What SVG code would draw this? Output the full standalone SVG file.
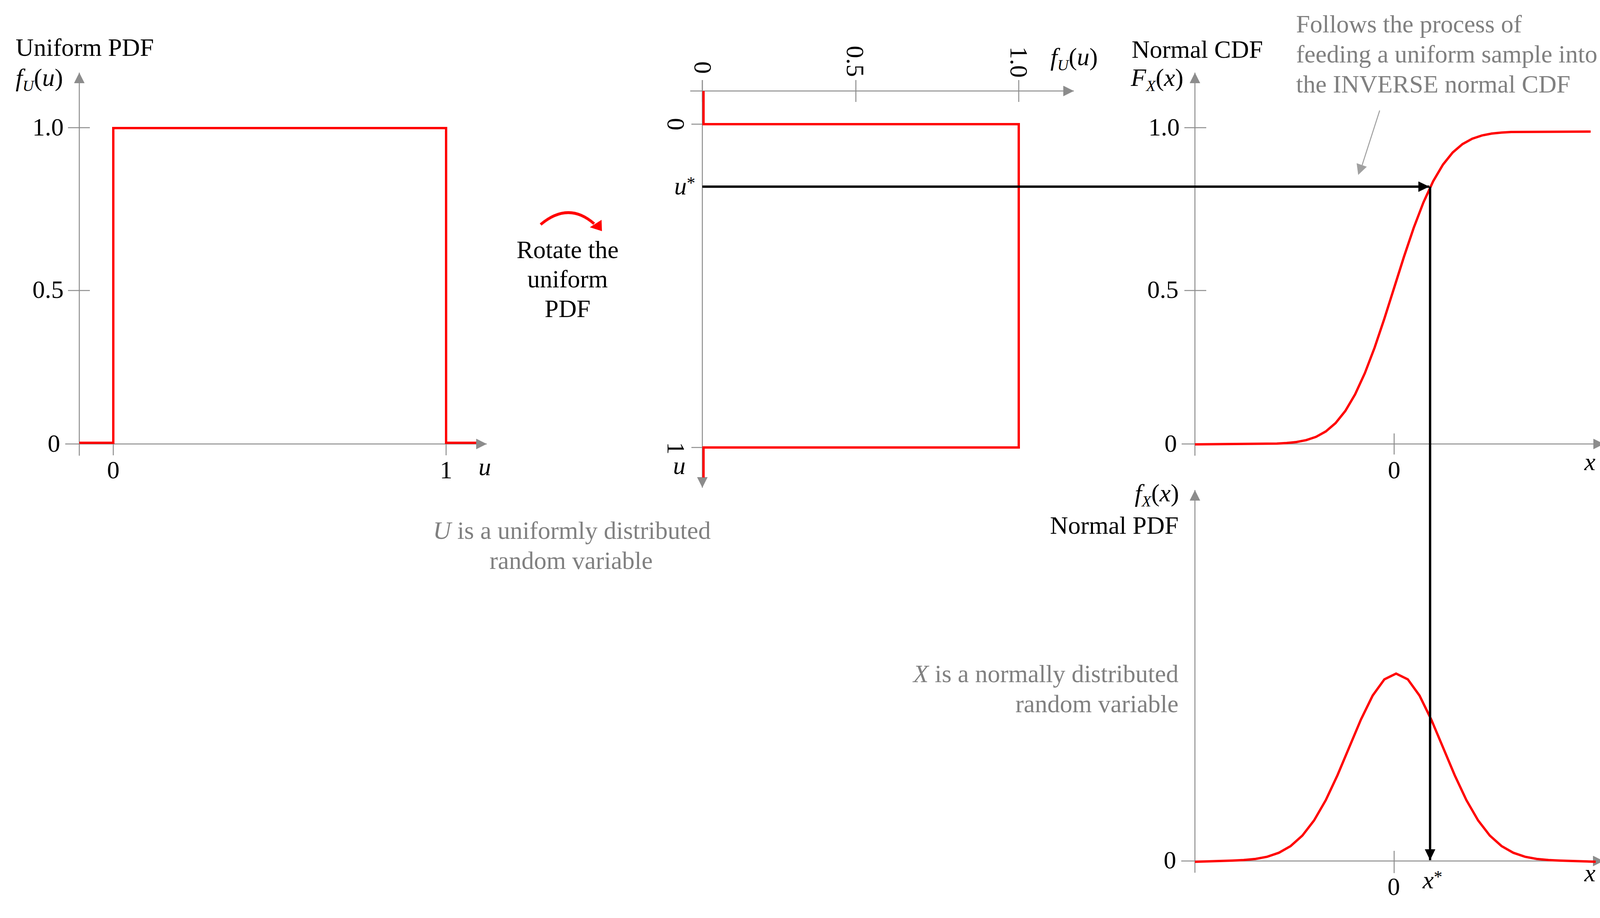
<svg xmlns="http://www.w3.org/2000/svg" width="4267" height="2351" viewBox="0 0 4267 2351">
<style>
.ax{stroke:#8c8c8c;stroke-width:2.5;fill:none}
.curve{stroke:#ff0000;stroke-width:6;fill:none;stroke-linejoin:miter}
.t{font-family:"Liberation Serif","Times New Roman",serif;font-size:64px;fill:#000}
.g{fill:#808080}
.i{font-style:italic}
.sub{font-size:40px}
.sup{font-size:44px;font-style:normal}
.conn{stroke:#000;stroke-width:6;fill:none}
</style>
<defs>
<marker id="ga" markerUnits="userSpaceOnUse" markerWidth="28" markerHeight="28" refX="27" refY="13.5" orient="auto">
<path d="M0,0 L27,13.5 L0,27 Z" fill="#8c8c8c"/>
</marker>
<marker id="ba" markerUnits="userSpaceOnUse" markerWidth="29" markerHeight="28" refX="28" refY="13.5" orient="auto">
<path d="M0,0 L28,13.5 L0,27 Z" fill="#000"/>
</marker>
</defs>
<rect width="4267" height="2351" fill="#fff"/>

<g id="uniform-pdf">
<path class="ax" d="M203,1167 V186" marker-end="url(#ga)"/>
<path class="ax" d="M167,1137 H1246" marker-end="url(#ga)"/>
<path class="ax" d="M174,327 H230 M174,744 H230 M290,1110 V1166 M1142,1110 V1166"/>
<path class="curve" d="M203,1134 H290 V328 H1142 V1134 H1219"/>
<text class="t" x="40" y="143">Uniform PDF</text>
<text class="t" x="40" y="220"><tspan class="i">f</tspan><tspan class="i sub" dy="13">U</tspan><tspan dy="-13">(</tspan><tspan class="i">u</tspan>)</text>
<text class="t" x="163" y="347" text-anchor="end">1.0</text>
<text class="t" x="163" y="763" text-anchor="end">0.5</text>
<text class="t" x="154" y="1157" text-anchor="end">0</text>
<text class="t" x="290" y="1225" text-anchor="middle">0</text>
<text class="t" x="1142" y="1225" text-anchor="middle">1</text>
<text class="t i" x="1225" y="1217">u</text>
</g>

<g id="rotate-note">
<path d="M1384,575 Q1455,515 1521,573" stroke="#ff0000" stroke-width="7" fill="none"/>
<path d="M1510,582 L1540,563 L1541,592 Z" fill="#ff0000"/>
<text class="t" x="1453" y="661" text-anchor="middle">Rotate the</text>
<text class="t" x="1453" y="736" text-anchor="middle">uniform</text>
<text class="t" x="1453" y="812" text-anchor="middle">PDF</text>
</g>

<g id="rotated-pdf">
<path class="ax" d="M1767,233 H2749" marker-end="url(#ga)"/>
<path class="ax" d="M1798,205 V1249" marker-end="url(#ga)"/>
<path class="ax" d="M1798,205 V261 M2191,205 V261 M2608,205 V261 M1770,318 H1826 M1770,1146 H1826"/>
<path class="curve" d="M1801,233 V318 H2608 V1146 H1801 V1223"/>
<text class="t" text-anchor="end" transform="translate(1778,189) rotate(90)">0</text>
<text class="t" text-anchor="end" transform="translate(2168,197) rotate(90)">0.5</text>
<text class="t" text-anchor="end" transform="translate(2587,199) rotate(90)">1.0</text>
<text class="t" x="2689" y="167"><tspan class="i">f</tspan><tspan class="i sub" dy="13">U</tspan><tspan dy="-13">(</tspan><tspan class="i">u</tspan>)</text>
<text class="t" text-anchor="middle" transform="translate(1709,318) rotate(90)">0</text>
<text class="t" text-anchor="middle" transform="translate(1709,1148) rotate(90)">1</text>
<text class="t i" x="1726" y="498">u<tspan class="sup" dy="-15">*</tspan></text>
<text class="t i" x="1723" y="1214">u</text>
</g>

<g id="u-note">
<text class="t g" x="1464" y="1380" text-anchor="middle"><tspan class="i">U</tspan> is a uniformly distributed</text>
<text class="t g" x="1462" y="1457" text-anchor="middle">random variable</text>
</g>

<g id="normal-cdf">
<path class="ax" d="M3059,1167 V186" marker-end="url(#ga)"/>
<path class="ax" d="M3025,1137 H4106" marker-end="url(#ga)"/>
<path class="ax" d="M3032,327 H3088 M3032,744 H3088 M3569,1110 V1164"/>
<polyline class="curve" points="3059,1138 3269,1136 3294,1134.6 3319,1132 3344,1127.2 3369,1118.8 3394,1105 3419,1083.6 3444,1052.5 3469,1010.1 3494,955.7 3519,890.2 3544,816 3569,737 3594,658 3619,583.8 3644,518.3 3669,463.9 3694,421.5 3719,390.4 3744,369 3769,355.2 3794,346.8 3819,342 3844,339.4 3869,338.1 4072,337"/>
<text class="t" x="2897" y="148">Normal CDF</text>
<text class="t" x="2895" y="220"><tspan class="i">F</tspan><tspan class="i sub" dy="13">X</tspan><tspan dy="-13">(</tspan><tspan class="i">x</tspan>)</text>
<text class="t" x="3020" y="347" text-anchor="end">1.0</text>
<text class="t" x="3017" y="763" text-anchor="end">0.5</text>
<text class="t" x="3013" y="1157" text-anchor="end">0</text>
<text class="t" x="3569" y="1225" text-anchor="middle">0</text>
<text class="t i" x="4056" y="1204">x</text>
</g>

<g id="inverse-note">
<text class="t g" x="3318" y="83">Follows the process of</text>
<text class="t g" x="3318" y="160">feeding a uniform sample into</text>
<text class="t g" x="3318" y="237">the INVERSE normal CDF</text>
<path d="M3532,283 L3487,423" stroke="#a0a0a0" stroke-width="2.5" fill="none"/>
<path d="M3473,418 L3499,427 L3477,448 Z" fill="#a0a0a0"/>
</g>

<g id="normal-pdf">
<path class="ax" d="M3059,2235 V1255" marker-end="url(#ga)"/>
<path class="ax" d="M3024,2205 H4105" marker-end="url(#ga)"/>
<path class="ax" d="M3569,2179 V2236"/>
<polyline class="curve" points="3059,2207 3154,2204 3184,2202.6 3214,2199.7 3244,2194.1 3274,2183.9 3304,2166.8 3334,2140 3364,2101.2 3394,2049.2 3424,1985.2 3454,1913.9 3484,1842.7 3514,1781.4 3544,1739.8 3574,1725 3604,1739.8 3634,1781.4 3664,1842.7 3694,1913.9 3724,1985.2 3754,2049.2 3784,2101.2 3814,2140 3844,2166.8 3874,2183.9 3904,2194.1 3934,2199.7 3964,2202.6 3994,2203.9 4085,2207"/>
<text class="t" x="2905" y="1284"><tspan class="i">f</tspan><tspan class="i sub" dy="13">X</tspan><tspan dy="-13">(</tspan><tspan class="i">x</tspan>)</text>
<text class="t" x="3017" y="1367" text-anchor="end">Normal PDF</text>
<text class="t" x="3011" y="2224" text-anchor="end">0</text>
<text class="t" x="3568" y="2292" text-anchor="middle">0</text>
<text class="t i" x="3642" y="2275">x<tspan class="sup" dy="-15">*</tspan></text>
<text class="t i" x="4056" y="2257">x</text>
</g>

<g id="x-note">
<text class="t g" x="3017" y="1747" text-anchor="end"><tspan class="i">X</tspan> is a normally distributed</text>
<text class="t g" x="3017" y="1824" text-anchor="end">random variable</text>
</g>

<g id="connectors">
<path class="conn" d="M1798,478 H3659" marker-end="url(#ba)"/>
<path class="conn" d="M3661,478 V2203" marker-end="url(#ba)"/>
</g>
</svg>
